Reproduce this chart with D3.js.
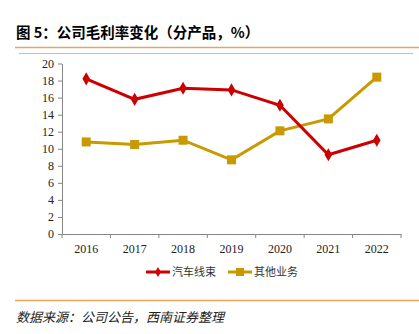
<!DOCTYPE html>
<html><head><meta charset="utf-8">
<script src="https://cdn.jsdelivr.net/npm/d3@7"></script>
<style>
body{margin:0;background:#fff;}
svg{display:block;}
</style></head>
<body>
<script>
const years = ["2016","2017","2018","2019","2020","2021","2022"];
const harness = [18.2, 15.8, 17.1, 16.9, 15.1, 9.3, 11.0];
const other = [10.8, 10.5, 11.0, 8.7, 12.1, 13.5, 18.4];
const seriesNames = ["汽车线束", "其他业务"];
const yTicks = [0,2,4,6,8,10,12,14,16,18,20];
const titleText = "图 5：公司毛利率变化（分产品，%）";
const sourceText = "数据来源：公司公告，西南证券整理";

const W = 419, H = 334;
const svg = d3.select("body").append("svg").attr("width", W).attr("height", H);
const serif = "'Liberation Serif','DejaVu Serif',serif";
const cjk = "'Noto Sans CJK SC','Noto Sans',sans-serif";

svg.append("text").attr("x", 16).attr("y", 38).text(titleText)
  .attr("font-family", cjk).attr("font-weight", "bold").attr("font-size", 14.5).attr("fill", "#000");
svg.append("line").attr("x1", 15).attr("x2", 419).attr("y1", 47.5).attr("y2", 47.5)
  .attr("stroke", "#E0A860").attr("stroke-width", 1.5);
svg.append("line").attr("x1", 19).attr("x2", 413).attr("y1", 53.5).attr("y2", 53.5)
  .attr("stroke", "#BFBFBF").attr("stroke-width", 1);

const x = d3.scaleBand().domain(years).range([62, 401]);
const y = d3.scaleLinear().domain([0, 20]).range([234, 63.5]);

const yAxis = svg.append("g").attr("transform", "translate(62,0)")
  .call(d3.axisLeft(y).tickValues(yTicks).tickSize(4).tickSizeOuter(0));
const xAxis = svg.append("g").attr("transform", "translate(0,234)")
  .call(d3.axisBottom(x).tickSize(0).tickPadding(10));
// tick marks at band boundaries
const bounds = years.map(d => x(d)).concat([x.range()[1]]);
svg.append("g").selectAll("line").data(bounds).join("line")
  .attr("x1", d => d).attr("x2", d => d).attr("y1", 234).attr("y2", 238)
  .attr("stroke", "#868686");
[yAxis, xAxis].forEach(g => {
  g.select(".domain").attr("stroke", "#868686");
  g.selectAll(".tick line").attr("stroke", "#868686");
  g.selectAll("text").attr("font-family", serif).attr("font-size", 12).attr("fill", "#222");
});
yAxis.selectAll("text").attr("x", -8);

const red = "#CC0000", gold = "#C99A00";
const line = d3.line().x((d, i) => x(years[i]) + x.bandwidth() / 2).y(d => y(d));

svg.append("path").datum(other).attr("d", line).attr("fill", "none")
  .attr("stroke", gold).attr("stroke-width", 3);
svg.append("g").selectAll("rect").data(other).join("rect")
  .attr("x", (d, i) => x(years[i]) + x.bandwidth() / 2 - 4.5)
  .attr("y", d => y(d) - 4.5).attr("width", 9).attr("height", 9).attr("fill", gold);

svg.append("path").datum(harness).attr("d", line).attr("fill", "none")
  .attr("stroke", red).attr("stroke-width", 3);
const diamond = d3.symbol().type(d3.symbolDiamond).size(50);
svg.append("g").selectAll("path").data(harness).join("path")
  .attr("d", diamond)
  .attr("transform", (d, i) => `translate(${x(years[i]) + x.bandwidth() / 2},${y(d)})`)
  .attr("fill", red);

// legend
const leg = svg.append("g");
const items = [
  {name: seriesNames[0], color: red, x0: 146, sym: "d"},
  {name: seriesNames[1], color: gold, x0: 228, sym: "s"}
];
items.forEach(it => {
  leg.append("line").attr("x1", it.x0).attr("x2", it.x0 + 24).attr("y1", 272).attr("y2", 272)
    .attr("stroke", it.color).attr("stroke-width", 3);
  if (it.sym === "d") {
    leg.append("path").attr("d", d3.symbol().type(d3.symbolDiamond).size(30)())
      .attr("transform", `translate(${it.x0 + 12},272)`).attr("fill", it.color);
  } else {
    leg.append("rect").attr("x", it.x0 + 8).attr("y", 268).attr("width", 8).attr("height", 8).attr("fill", it.color);
  }
  leg.append("text").attr("x", it.x0 + 26).attr("y", 276).text(it.name)
    .attr("font-family", cjk).attr("font-size", 11).attr("fill", "#333");
});

svg.append("line").attr("x1", 15).attr("x2", 419).attr("y1", 300.5).attr("y2", 300.5)
  .attr("stroke", "#E0A860").attr("stroke-width", 1.5);
svg.append("text").attr("x", 16).attr("y", 322).text(sourceText)
  .attr("font-family", cjk).attr("font-style", "italic").attr("font-size", 13).attr("fill", "#222");
</script>
</body></html>
